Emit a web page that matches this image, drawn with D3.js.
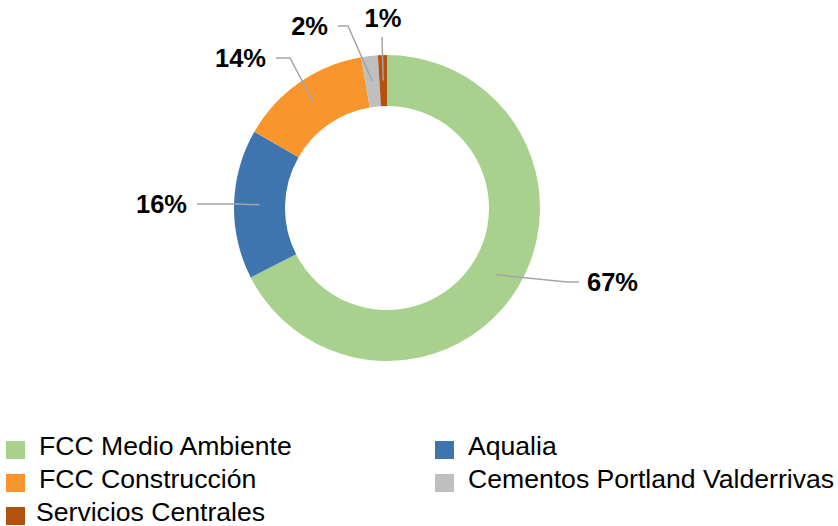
<!DOCTYPE html>
<meta charset="utf-8">
<style>
body { margin: 0; background: #fff; }
.pct { font: bold 25.5px "Liberation Sans", Arial, sans-serif; fill: #000; }
.legend text { font: 26.6px "Liberation Sans", Arial, sans-serif; fill: #000; }
.leader { fill: none; stroke: #a6a6a6; stroke-width: 1.5px; }
</style>
<svg width="838" height="526"></svg>
<script src="https://d3js.org/d3.v7.min.js"></script>
<script>

// data
var categories = ["FCC Medio Ambiente", "Aqualia", "FCC Construcción", "Cementos Portland Valderrivas", "Servicios Centrales"];
var values = [67.5, 15.8, 14.0, 1.75, 0.95];
var labels = ["67%", "16%", "14%", "2%", "1%"];
var colors = ["#a9d18e", "#3e75ae", "#f8962d", "#bfbfbf", "#b3520f"];

// label layout: elbow point, end of horizontal run (relative to centre), text anchor
var labelLayout = [
  { elbow: [180, 74],   end: [192, 74],   anchor: "start" },
  { elbow: [-150, -4],  end: [-190, -4],  anchor: "end" },
  { elbow: [-97, -150], end: [-111, -150], anchor: "end" },
  { elbow: [-39, -182], end: [-49, -182], anchor: "end" },
  { elbow: [-5, -171],  end: [-5, -171],  anchor: "middle" }
];

var svg = d3.select("svg"),
    cx = 387, cy = 208,
    outerR = 153, innerR = 102;

var g = svg.append("g").attr("transform", "translate(" + cx + "," + cy + ")");

var pie = d3.pie().sort(null).value(function(d) { return d; });
var arc = d3.arc().innerRadius(innerR).outerRadius(outerR);
var mid = d3.arc().innerRadius((innerR + outerR) / 2).outerRadius((innerR + outerR) / 2);

var arcs = pie(values);

g.selectAll("path.slice")
  .data(arcs)
  .enter().append("path")
    .attr("class", "slice")
    .attr("d", arc)
    .attr("fill", function(d, i) { return colors[i]; });

// leader lines
g.selectAll("polyline.leader")
  .data(arcs)
  .enter().append("polyline")
    .attr("class", "leader")
    .attr("points", function(d, i) {
      var c = mid.centroid(d), L = labelLayout[i];
      return [c, L.elbow, L.end].map(function(p) { return p.join(","); }).join(" ");
    });

g.selectAll("text.pct")
  .data(arcs)
  .enter().append("text")
    .attr("class", "pct")
    .attr("text-anchor", function(d, i) { return labelLayout[i].anchor; })
    .attr("x", function(d, i) {
      var L = labelLayout[i];
      if (L.anchor == "start") return L.end[0] + 8;
      if (L.anchor == "end") return L.end[0] - 10;
      return L.end[0] + 1;
    })
    .attr("y", function(d, i) {
      var L = labelLayout[i];
      if (L.anchor == "middle") return L.end[1] - 10;
      return L.end[1] + 9;
    })
    .text(function(d, i) { return labels[i]; });

// legend, two columns
var legend = svg.append("g").attr("class", "legend");
var colX = [6, 435], rowY = 441, rowH = 33;

var item = legend.selectAll("g")
  .data(categories)
  .enter().append("g")
    .attr("transform", function(d, i) {
      return "translate(" + colX[i % 2] + "," + (rowY + Math.floor(i / 2) * rowH) + ")";
    });

item.append("rect")
    .attr("width", 19)
    .attr("height", 18)
    .attr("fill", function(d, i) { return colors[i]; });

item.append("text")
    .attr("x", function(d, i) { return i == 4 ? 30 : 33; })
    .attr("y", 14)
    .text(function(d) { return d; });

</script>
